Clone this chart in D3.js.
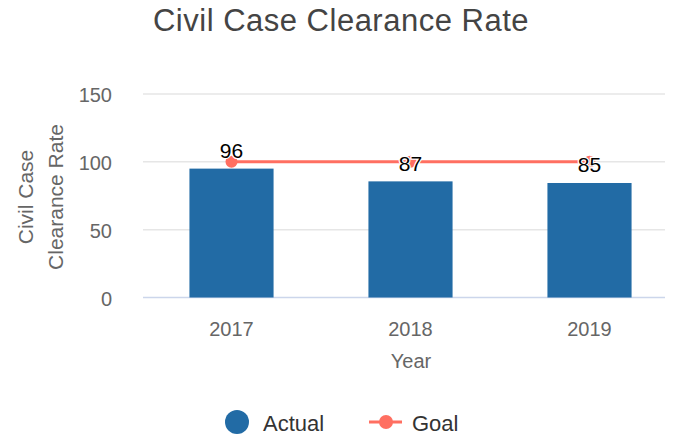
<!DOCTYPE html>
<html>
<head>
<meta charset="utf-8">
<script src="https://cdn.jsdelivr.net/npm/d3@7"></script>
<style>
  body { margin: 0; background: #fff; }
  text { font-family: "Liberation Sans", Arial, Helvetica, sans-serif; }
</style>
</head>
<body>
<script>
// chart data
var years = ["2017", "2018", "2019"];
var actual = [95, 85.6, 84.4];
var labels = ["96", "87", "85"];
var goal = [100, 100, 100];
var yTicks = [0, 50, 100, 150];

var width = 687, height = 438;

var svg = d3.select("body").append("svg")
  .attr("width", width)
  .attr("height", height);

// scales
var x = d3.scaleBand()
  .domain(years)
  .range([142, 679])
  .paddingInner(0.53)
  .paddingOuter(0.265);

var y = d3.scaleLinear()
  .domain([0, 150])
  .range([297.5, 94]);

// title
svg.append("text")
  .attr("x", 341)
  .attr("y", 31)
  .attr("text-anchor", "middle")
  .style("font-size", "31px")
  .style("letter-spacing", "0.5px")
  .style("fill", "#444")
  .text("Civil Case Clearance Rate");

// gridlines
svg.selectAll("line.grid")
  .data(yTicks)
  .enter()
  .append("line")
  .attr("class", "grid")
  .attr("x1", 143)
  .attr("x2", 665)
  .attr("y1", function(d) { return y(d); })
  .attr("y2", function(d) { return y(d); })
  .style("stroke", function(d) { return d === 0 ? "#ccd6eb" : "#e6e6e6"; })
  .style("stroke-width", 1.5);

// y tick labels
svg.selectAll("text.ytick")
  .data(yTicks)
  .enter()
  .append("text")
  .attr("class", "ytick")
  .attr("x", 112)
  .attr("y", function(d) { return y(d) + 8; })
  .attr("text-anchor", "end")
  .style("font-size", "20px")
  .style("fill", "#666")
  .text(function(d) { return d; });

// y axis title
var yTitle = svg.append("text")
  .attr("transform", "translate(0,197) rotate(-90)")
  .attr("text-anchor", "middle")
  .style("font-size", "21px")
  .style("fill", "#666");
yTitle.append("tspan").attr("x", 0).attr("y", 33).text("Civil Case");
yTitle.append("tspan").attr("x", 0).attr("y", 63).text("Clearance Rate");

// bars
svg.selectAll("rect.bar")
  .data(actual)
  .enter()
  .append("rect")
  .attr("class", "bar")
  .attr("x", function(d, i) { return x(years[i]); })
  .attr("width", x.bandwidth())
  .attr("y", function(d) { return y(d); })
  .attr("height", function(d) { return y(0) - y(d); })
  .style("fill", "#226ba5");

// goal line
var line = d3.line()
  .x(function(d, i) { return x(years[i]) + x.bandwidth() / 2; })
  .y(function(d) { return y(d); });

svg.append("path")
  .datum(goal)
  .attr("d", line)
  .style("fill", "none")
  .style("stroke", "#ff6f61")
  .style("stroke-width", 3);

svg.selectAll("circle.goal")
  .data(goal)
  .enter()
  .append("circle")
  .attr("class", "goal")
  .attr("cx", function(d, i) { return x(years[i]) + x.bandwidth() / 2; })
  .attr("cy", function(d) { return y(d); })
  .attr("r", 6)
  .style("fill", "#ff6f61");

// data labels
var labelY = [158, 170.5, 172];
svg.selectAll("text.dl")
  .data(labels)
  .enter()
  .append("text")
  .attr("class", "dl")
  .attr("x", function(d, i) { return x(years[i]) + x.bandwidth() / 2; })
  .attr("y", function(d, i) { return labelY[i]; })
  .attr("text-anchor", "middle")
  .style("font-size", "21px")
  .style("fill", "#000")
  .style("stroke", "#fff")
  .style("stroke-width", 2.5)
  .style("paint-order", "stroke")
  .text(function(d) { return d; });

// x tick labels
svg.selectAll("text.xtick")
  .data(years)
  .enter()
  .append("text")
  .attr("class", "xtick")
  .attr("x", function(d) { return x(d) + x.bandwidth() / 2; })
  .attr("y", 336)
  .attr("text-anchor", "middle")
  .style("font-size", "20px")
  .style("fill", "#666")
  .text(function(d) { return d; });

svg.append("text")
  .attr("x", 411)
  .attr("y", 368)
  .attr("text-anchor", "middle")
  .style("font-size", "20px")
  .style("fill", "#666")
  .text("Year");

// legend
var legend = svg.append("g");
legend.append("circle")
  .attr("cx", 237)
  .attr("cy", 422)
  .attr("r", 12)
  .style("fill", "#226ba5");
legend.append("text")
  .attr("x", 263)
  .attr("y", 431)
  .style("font-size", "22px")
  .style("fill", "#333")
  .text("Actual");
legend.append("line")
  .attr("x1", 369)
  .attr("x2", 402)
  .attr("y1", 422)
  .attr("y2", 422)
  .style("stroke", "#ff6f61")
  .style("stroke-width", 3);
legend.append("circle")
  .attr("cx", 386)
  .attr("cy", 422)
  .attr("r", 7)
  .style("fill", "#ff6f61");
legend.append("text")
  .attr("x", 412)
  .attr("y", 431)
  .style("font-size", "22px")
  .style("fill", "#333")
  .text("Goal");
</script>
</body>
</html>
